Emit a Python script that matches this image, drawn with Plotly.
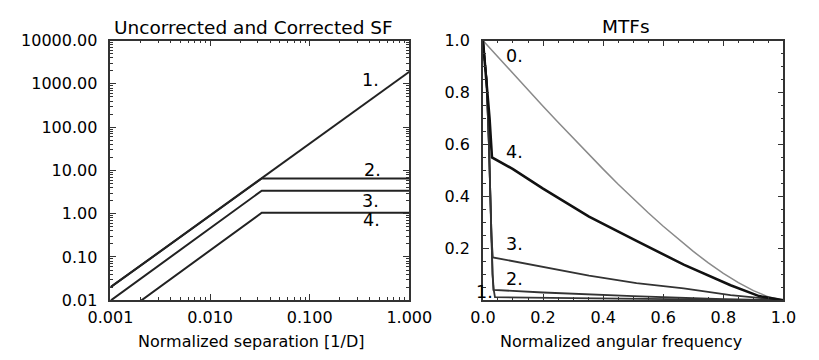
import plotly.graph_objects as go

# ---------------- Left panel: structure functions ----------------
sf_x1 = [0.001, 1.0]
sf_y1 = [0.02, 1900.0]
sf_x2 = [0.001, 0.033, 1.0]
sf_y2 = [0.02, 6.5, 6.5]
sf_x3 = [0.001, 0.033, 1.0]
sf_y3 = [0.0098, 3.4, 3.4]
sf_x4 = [0.001, 0.033, 1.0]
sf_y4 = [0.003, 1.05, 1.05]
sf_labels = ["1.", "2.", "3.", "4."]

# ---------------- Right panel: MTFs ----------------
mtf_x0 = [0.0, 0.05, 0.1, 0.15, 0.2, 0.25, 0.3, 0.35, 0.4, 0.45, 0.5,
          0.55, 0.6, 0.65, 0.7, 0.75, 0.8, 0.85, 0.9, 0.95, 1.0]
mtf_y0 = [1.0, 0.936, 0.873, 0.810, 0.747, 0.685, 0.624, 0.564, 0.505, 0.447, 0.391,
          0.337, 0.285, 0.235, 0.188, 0.144, 0.104, 0.068, 0.037, 0.013, 0.0]
mtf_x4 = [0.0, 0.012, 0.022, 0.03, 0.1, 0.2, 0.353, 0.511, 0.668, 0.824, 0.919, 1.0]
mtf_y4 = [1.0, 0.85, 0.70, 0.55, 0.505, 0.43, 0.322, 0.229, 0.137, 0.058, 0.016, 0.0]
mtf_x3 = [0.0, 0.012, 0.02, 0.024, 0.028, 0.033, 0.2, 0.353, 0.511, 0.668, 0.824, 0.919, 1.0]
mtf_y3 = [1.0, 0.85, 0.60, 0.40, 0.25, 0.165, 0.13, 0.095, 0.066, 0.046, 0.02, 0.01, 0.0]
mtf_x2 = [0.0, 0.012, 0.02, 0.024, 0.028, 0.032, 0.035, 0.2, 0.5, 0.8, 1.0]
mtf_y2 = [1.0, 0.85, 0.60, 0.40, 0.25, 0.10, 0.04, 0.03, 0.016, 0.004, 0.0]
mtf_x1 = [0.0, 0.012, 0.02, 0.024, 0.028, 0.032, 0.036, 0.04, 0.3, 0.7, 1.0]
mtf_y1 = [1.0, 0.85, 0.60, 0.40, 0.25, 0.10, 0.04, 0.012, 0.008, 0.003, 0.0]
mtf_labels = ["0.", "1.", "2.", "3.", "4."]

FONT = "DejaVu Sans, Liberation Sans, Arial, sans-serif"
LINE = "#222222"
FRAME = "#333333"

fig = go.Figure()

for xs, ys in [(sf_x1, sf_y1), (sf_x2, sf_y2), (sf_x3, sf_y3), (sf_x4, sf_y4)]:
    fig.add_trace(go.Scatter(x=xs, y=ys, mode="lines", xaxis="x", yaxis="y",
                             line=dict(color=LINE, width=2), showlegend=False))

fig.add_trace(go.Scatter(x=mtf_x0, y=mtf_y0, mode="lines", xaxis="x2", yaxis="y2",
                         line=dict(color="#8a8a8a", width=1.5), showlegend=False))
for xs, ys, w, c in [(mtf_x1, mtf_y1, 1.8, "#333333"), (mtf_x2, mtf_y2, 1.8, "#333333"),
                     (mtf_x3, mtf_y3, 1.8, "#333333"), (mtf_x4, mtf_y4, 2.6, "#111111")]:
    fig.add_trace(go.Scatter(x=xs, y=ys, mode="lines", xaxis="x2", yaxis="y2",
                             line=dict(color=c, width=w), showlegend=False))

W, H = 819, 360
def px(v):
    return v / W
def py(v):
    return 1 - v / H

axis_common = dict(showline=True, linecolor=FRAME, linewidth=1.8, mirror="ticks",
                   ticks="inside", ticklen=6, tickwidth=1.3, tickcolor=FRAME,
                   showgrid=False, zeroline=False,
                   tickfont=dict(family=FONT, size=16, color="black"))

fig.update_layout(
    width=W, height=H, autosize=False,
    margin=dict(l=0, r=0, t=0, b=0, pad=0),
    paper_bgcolor="white", plot_bgcolor="white",
    font=dict(family=FONT, size=16, color="black"),
    xaxis=dict(type="log", range=[-3, 0], domain=[px(92.7), px(409.3)], anchor="y",
               dtick=1, tickformat=".3f", ticklabelstandoff=2,
               minor=dict(ticks="inside", ticklen=3, dtick="D1", tickcolor=FRAME, showgrid=False),
               **axis_common),
    yaxis=dict(type="log", range=[-2, 4], domain=[py(307.5), py(33.3)], anchor="x",
               dtick=1, tickformat=".2f", ticklabelstandoff=8,
               minor=dict(ticks="inside", ticklen=3, dtick="D1", tickcolor=FRAME, showgrid=False),
               **axis_common),
    xaxis2=dict(range=[0, 1], domain=[px(487.3), px(805.7)], anchor="y2",
                tickmode="linear", tick0=0, dtick=0.2, tickformat=".1f", ticklabelstandoff=2,
                minor=dict(ticks="inside", ticklen=3, tickmode="linear", tick0=0, dtick=0.05,
                           tickcolor=FRAME, showgrid=False),
                **axis_common),
    yaxis2=dict(range=[0, 1], domain=[py(307.5), py(33.3)], anchor="x2",
                tickmode="array", tickvals=[0.2, 0.4, 0.6, 0.8, 1.0],
                ticktext=["0.2", "0.4", "0.6", "0.8", "1.0"], ticklabelstandoff=8,
                minor=dict(ticks="inside", ticklen=3, tickmode="linear", tick0=0, dtick=0.05,
                           tickcolor=FRAME, showgrid=False),
                **axis_common),
)

ann = []
def paper_text(text, x, y, size):
    return dict(text=text, x=px(x), y=py(y), xref="paper", yref="paper",
                xanchor="center", yanchor="middle", showarrow=False,
                font=dict(family=FONT, size=size, color="black"))

ann.append(paper_text("Uncorrected and Corrected SF", 244, 20, 18.5))
ann.append(paper_text("MTFs", 639, 18, 18.5))
ann.append(paper_text("Normalized separation [1/D]", 242, 351, 16))
ann.append(paper_text("Normalized angular frequency", 634, 351, 16))

# left curve labels (log-axis annotation coords are log10 values)
sf_label_pos = [(-0.39, 3.08), (-0.37, 1.0), (-0.39, 0.30), (-0.38, -0.155)]
for t, (lx, ly) in zip(sf_labels, sf_label_pos):
    ann.append(dict(text=t, x=lx, y=ly, xref="x", yref="y", xanchor="center", yanchor="middle",
                    showarrow=False, font=dict(family=FONT, size=17.5, color="black")))

mtf_label_pos = [(0.105, 0.94), (0.006, 0.03), (0.105, 0.08), (0.105, 0.215), (0.105, 0.57)]
for t, (lx, ly) in zip(mtf_labels, mtf_label_pos):
    ann.append(dict(text=t, x=lx, y=ly, xref="x2", yref="y2", xanchor="center", yanchor="middle",
                    showarrow=False, font=dict(family=FONT, size=17.5, color="black")))

fig.update_layout(annotations=ann)

fig.write_html("out.html")
